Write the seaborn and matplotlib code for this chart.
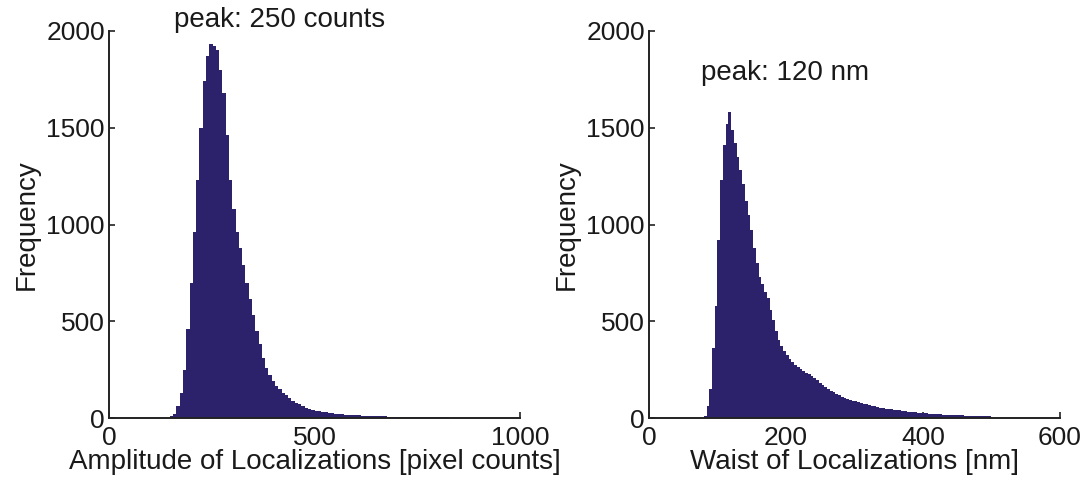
import numpy as np
import pandas as pd
import matplotlib
matplotlib.use("Agg")
import matplotlib.pyplot as plt
import seaborn as sns

# Amplitude histogram: bin width 8 pixel counts, first bin centred at 144
amp_bin_width = 8
amp_bin_start = 140
amp_counts = [
    2, 8, 22, 60, 130, 250, 460, 700, 960, 1230,
    1500, 1740, 1870, 1935, 1920, 1900, 1800, 1680, 1460, 1230,
    1080, 960, 880, 790, 700, 615, 530, 450, 380, 310,
    260, 220, 190, 165, 150, 130, 118, 102, 90, 80,
    70, 60, 52, 47, 42, 38, 35, 32, 29, 26,
    24, 22, 20, 19, 18, 17, 16, 15, 14, 13,
    12, 11, 10, 10, 9, 8, 8, 7, 7, 7,
    6, 6, 6, 5, 5, 5, 4, 4, 4, 4,
    3, 3, 3, 3, 3, 3, 2, 2, 2, 2,
    2, 2, 2, 0,
]

# Waist histogram: bin width 4 nm, first bin centred at 78
waist_bin_width = 4
waist_bin_start = 76
waist_counts = [
    0, 12, 60, 150, 360, 580, 920, 1230, 1410, 1520,
    1580, 1490, 1420, 1350, 1280, 1210, 1120, 1050, 970, 880,
    800, 730, 690, 650, 620, 560, 505, 450, 405, 370,
    345, 325, 305, 290, 275, 265, 255, 245, 235, 225,
    215, 205, 195, 182, 170, 160, 150, 140, 132, 125,
    118, 110, 104, 98, 94, 90, 86, 82, 77, 73,
    70, 66, 63, 60, 57, 54, 52, 49, 47, 45,
    43, 41, 39, 37, 35, 33, 32, 30, 29, 28,
    26, 25, 24, 23, 22, 21, 20, 19, 18, 17,
    17, 16, 16, 15, 14, 14, 13, 13, 12, 12,
    11, 11, 11, 10, 10, 10,
]

amp_xticks = [0, 500, 1000]
waist_xticks = [0, 200, 400, 600]
yticks = [0, 500, 1000, 1500, 2000]

amp_xlabel = "Amplitude of Localizations [pixel counts]"
waist_xlabel = "Waist of Localizations [nm]"
ylabel = "Frequency"
amp_note = "peak: 250 counts"
waist_note = "peak: 120 nm"

bar_color = "#2c226c"
axis_color = "#222222"
text_color = "#1a1a1a"

sns.set_theme(style="ticks")
plt.rcParams["font.family"] = ["Liberation Sans", "DejaVu Sans"]
plt.rcParams["axes.edgecolor"] = axis_color
plt.rcParams["axes.linewidth"] = 1.4


def make_frame(counts, start, width):
    centers = start + width * np.arange(len(counts)) + width / 2
    return pd.DataFrame({"value": centers, "count": counts})


fig = plt.figure(figsize=(10.86, 4.79), dpi=100)
ax1 = fig.add_axes([0.1004, 0.1273, 0.3784, 0.808])
ax2 = fig.add_axes([0.5976, 0.1273, 0.3784, 0.808])

panels = [
    (ax1, amp_counts, amp_bin_start, amp_bin_width, amp_xticks, amp_xlabel,
     amp_note, (416, 2057)),
    (ax2, waist_counts, waist_bin_start, waist_bin_width, waist_xticks,
     waist_xlabel, waist_note, (199, 1783)),
]

for ax, counts, start, width, xticks, xlabel, note, note_xy in panels:
    df = make_frame(counts, start, width)
    sns.histplot(data=df, x="value", weights="count", binwidth=width,
                 binrange=(start, start + width * len(counts)),
                 element="step", fill=True, color=bar_color, alpha=1,
                 linewidth=0, ax=ax)
    ax.set_xlim(xticks[0], xticks[-1])
    ax.set_ylim(0, 2000)
    ax.set_xticks(xticks)
    ax.set_yticks(yticks)
    ax.tick_params(direction="in", length=4, width=1.2, colors=axis_color,
                   labelcolor=text_color, labelsize=19)
    ax.tick_params(axis="x", pad=6)
    ax.tick_params(axis="y", pad=3)
    ax.set_xlabel(xlabel, fontsize=20, color=text_color, labelpad=-1)
    ax.set_ylabel(ylabel, fontsize=20, color=text_color, labelpad=5)
    for side in ("top", "right"):
        ax.spines[side].set_visible(False)
    ax.text(note_xy[0], note_xy[1], note, ha="center", va="center",
            fontsize=20, color=text_color, clip_on=False)

fig.savefig("out.png", dpi=100)
